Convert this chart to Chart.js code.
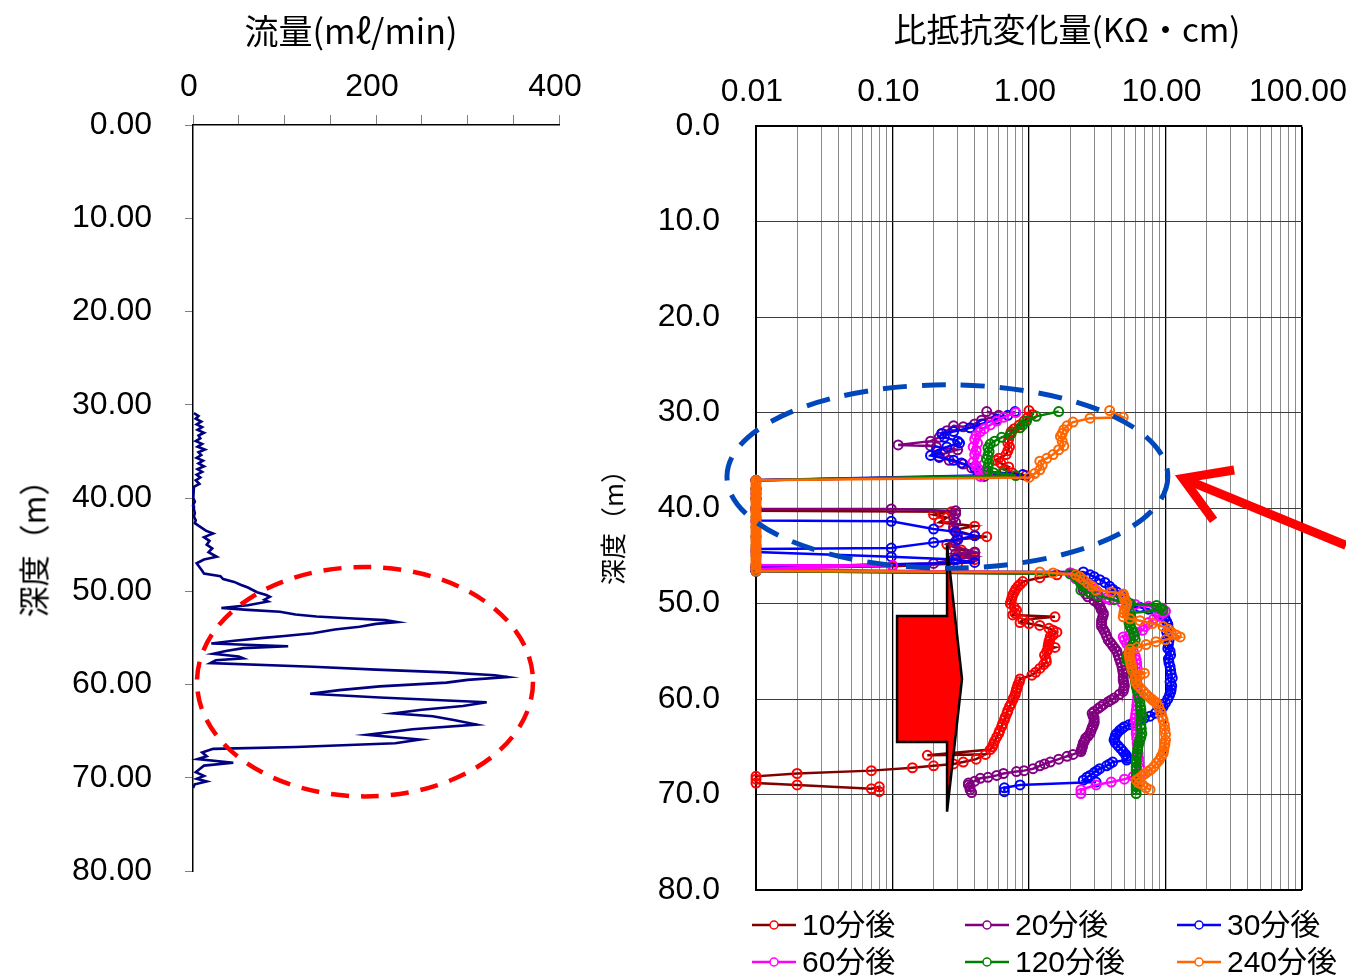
<!DOCTYPE html>
<html><head><meta charset="utf-8">
<script src="https://cdn.jsdelivr.net/npm/chart.js@4.4.1/dist/chart.umd.min.js"></script>
<style>
html,body{margin:0;padding:0;background:#fff;}
#wrap{position:relative;width:1346px;height:976px;overflow:hidden;background:#fff;}
canvas{position:absolute;top:0;}
.t{position:absolute;white-space:nowrap;font-family:'Noto Sans CJK JP',sans-serif;color:#000;line-height:1;}
.lg{position:absolute;white-space:nowrap;font-family:'Liberation Sans','Noto Sans CJK JP',sans-serif;font-size:30px;color:#000;line-height:1;display:flex;align-items:center;}
.lg svg{margin-right:6px;}
</style></head>
<body><div id="wrap">
<canvas id="c1" width="600" height="976" style="left:0px"></canvas>
<canvas id="c2" width="756" height="976" style="left:590px"></canvas>
<div class="t" style="left:351px;top:30px;font-size:34px;transform:translate(-50%,-50%)">流量(mℓ/min)</div>
<div class="t" style="left:1067px;top:28px;font-size:33px;transform:translate(-50%,-50%)">比抵抗変化量(KΩ・cm)</div>
<div class="t" style="left:32px;top:541px;font-size:31px;transform:translate(-50%,-50%) rotate(-90deg)">深度（m）</div>
<div class="t" style="left:612px;top:521px;font-size:26px;transform:translate(-50%,-50%) rotate(-90deg)">深度（m）</div>
<div id="legend"></div>
</div>
<script>
// ---------- data: left chart (flow vs depth) ----------
const flowDepth = [30.9,31.2,31.5,31.8,32.1,32.4,32.7,33.0,33.3,33.6,33.9,34.2,34.5,34.8,35.1,35.4,35.7,36.0,36.3,36.6,36.9,37.2,37.5,37.8,38.1,38.5,38.8,39.2,39.6,40.0,40.4,40.8,41.2,41.6,42.0,42.4,42.7,43.1,43.5,43.8,44.2,44.6,45.0,45.4,45.8,46.3,46.6,47.0,47.4,47.8,48.1,48.4,48.7,49.0,49.3,49.6,50.1,50.4,50.6,50.9,51.1,51.5,51.8,52.0,52.2,52.5,52.7,52.9,53.1,53.3,53.5,53.8,54.1,54.5,54.8,55.0,55.3,55.6,55.9,56.1,56.4,56.7,57.0,57.2,57.4,57.7,58.1,58.4,58.7,59.0,59.2,59.5,59.8,60.2,60.6,61.0,61.4,61.9,62.3,62.7,63.1,63.4,63.8,64.3,64.8,65.4,65.9,66.3,66.7,66.9,67.3,67.7,68.0,68.4,68.7,69.0,69.4,69.8,70.1,70.4,70.7,71.1];
const flowRate  = [1,6,3,9,4,10,5,12,6,8,3,10,5,13,6,9,4,11,6,12,5,10,4,8,3,7,1,0,1,0,2,0,1,2,1,3,2,8,14,22,12,18,15,21,17,26,12,4,7,10,12,30,33,45,52,60,70,80,84,78,82,60,31,60,95,112,135,170,210,223,200,182,155,131,100,77,45,20,104,55,36,22,50,55,25,19,131,200,277,330,344,300,277,204,160,128,204,321,295,250,219,262,285,310,240,190,248,221,113,22,10,15,5,44,12,8,3,12,4,15,2,0];

// ---------- data: right chart (resistivity change vs depth) ----------
const seriesNames = ['10分後','20分後','30分後','60分後','120分後','240分後'];
const lineColors   = ['#800000','#800080','#0000ff','#ff00ff','#008000','#ff6600'];
const markerColors = ['#ff0000','#800080','#0000ff','#ff00ff','#008000','#ff6600'];

const dep10 = [29.8,30.2,30.5,30.9,31.3,31.7,32.0,32.4,32.8,33.2,33.6,34.0,34.4,34.8,35.0,35.3,35.7,36.0,36.3,36.6,37.1,38.0,39.0,40.3,40.4,40.7,41.0,41.5,41.9,42.3,42.9,43.0,43.3,43.8,44.4,44.7,45.0,45.4,45.8,46.1,46.3,46.6,
  46.8,47.0,47.3,47.7,48.0,48.2,48.5,48.8,49.1,49.4,49.7,50.0,50.4,50.7,51.0,51.2,51.4,51.7,52.0,52.1,52.3,52.6,52.8,53.0,53.3,53.5,53.8,54.0,54.3,54.5,54.6,54.8,55.0,55.4,55.8,56.1,56.4,56.8,57.2,57.5,57.9,58.2,58.5,58.8,59.0,59.3,59.6,59.9,60.1,60.5,60.8,61.2,61.5,61.9,62.2,62.6,62.9,63.3,63.6,64.0,64.4,64.7,65.0,65.3,
  65.9,65.8,66.3,66.6,66.8,67.0,67.2,67.5,67.8,68.1,68.4,68.8,69.0,69.4,69.2,69.7];
const val10 = [1.0,1.06,0.98,0.92,0.85,0.78,0.74,0.72,0.71,0.70,0.72,0.70,0.68,0.60,0.57,0.62,0.71,0.66,0.75,0.95,0.01,0.01,0.01,0.01,0.27,0.20,0.25,0.22,0.40,0.28,0.40,0.49,0.30,0.25,0.32,0.40,0.30,0.40,0.30,0.10,0.01,0.01,
  2.0,1.6,1.2,0.90,0.86,0.83,0.80,0.78,0.76,0.75,0.74,0.73,0.78,0.81,0.79,0.76,1.55,0.90,0.86,1.0,1.2,1.4,1.5,1.6,1.5,1.43,1.42,1.4,1.39,1.38,1.55,1.38,1.35,1.3,1.33,1.34,1.28,1.2,1.12,1.05,0.86,0.85,0.83,0.82,0.81,0.80,0.79,0.77,0.76,0.74,0.72,0.70,0.69,0.67,0.66,0.64,0.63,0.61,0.60,0.58,0.56,0.55,0.54,0.52,
  0.18,0.48,0.41,0.33,0.28,0.20,0.14,0.07,0.02,0.01,0.01,0.01,0.02,0.07,0.08,0.08];

const dep20 = [29.9,30.3,30.8,31.2,31.5,31.4,31.9,32.2,32.6,33.0,33.4,33.5,33.6,33.9,34.3,34.6,35.0,35.4,35.8,36.2,36.7,37.1,38.0,39.0,40.1,40.1,40.3,40.6,41.0,41.5,42.0,42.5,43.0,43.5,44.0,44.6,44.8,45.1,45.4,45.8,46.2,46.6,
  46.9,47.2,47.4,47.7,48.0,48.3,48.6,49.0,49.3,49.7,50.0,50.2,50.5,50.7,51.0,51.2,51.5,51.8,52.1,52.4,52.7,53.0,53.4,53.8,54.1,54.4,54.7,55.0,55.4,55.8,56.2,56.6,57.0,57.3,57.7,58.0,58.3,58.6,58.9,59.2,59.5,59.9,60.1,60.3,60.6,60.8,61.0,61.3,61.5,61.8,62.0,62.3,62.5,62.8,63.0,63.3,63.6,63.9,64.1,64.4,64.6,64.9,65.1,65.3,65.5,65.8,66.0,66.3,66.6,66.8,67.0,67.3,67.5,67.6,67.8,68.0,68.2,68.3,68.6,68.8,69.0,69.2,69.5,69.8];
const val20 = [0.49,0.60,0.45,0.40,0.33,0.28,0.25,0.23,0.22,0.19,0.11,0.19,0.21,0.30,0.24,0.22,0.26,0.33,0.38,0.42,0.47,0.01,0.01,0.01,0.01,0.098,0.29,0.29,0.28,0.29,0.28,0.29,0.30,0.29,0.28,0.40,0.29,0.40,0.28,0.20,0.01,0.01,
  2.1,2.3,2.4,2.5,2.6,2.55,2.5,2.6,2.7,3.0,3.2,3.3,3.35,3.4,3.5,3.5,3.45,3.4,3.4,3.4,3.5,3.6,3.7,3.8,3.95,4.1,4.25,4.4,4.5,4.6,4.7,4.8,4.85,4.9,4.9,4.9,4.95,5.0,4.95,4.9,4.6,4.2,4.0,3.8,3.5,3.35,3.2,3.0,2.9,2.95,3.0,3.0,3.0,2.95,2.9,2.85,2.8,2.7,2.6,2.55,2.5,2.47,2.45,2.42,2.4,2.1,1.9,1.65,1.43,1.3,1.2,1.07,0.92,0.81,0.65,0.58,0.50,0.44,0.40,0.36,0.36,0.37,0.37,0.38];

const dep30 = [29.9,30.3,30.7,31.2,31.6,32.0,32.2,32.6,33.0,33.2,33.6,34.0,34.5,34.7,35.0,35.3,35.8,36.2,36.5,37.1,38.5,40.0,41.3,41.4,42.2,42.5,42.9,43.3,43.6,44.2,44.3,44.6,45.1,45.4,45.7,46.2,46.6,
  46.7,47.0,47.2,47.5,47.8,48.2,48.5,48.8,49.1,49.5,49.8,50.2,50.4,50.6,50.9,51.2,51.5,51.9,52.2,52.6,53.0,53.5,53.9,54.3,54.7,55.0,55.4,55.8,56.2,56.6,57.0,57.4,57.8,58.2,58.6,59.0,59.3,59.6,60.0,60.4,60.8,61.2,61.5,61.8,62.0,62.2,62.5,62.7,62.9,63.1,63.3,63.6,63.8,64.1,64.3,64.6,64.9,65.2,65.5,65.8,66.0,66.2,66.4,66.6,66.8,67.0,67.3,67.5,67.7,68.0,68.2,68.5,68.7,69.0,69.3,69.7];
const val30 = [0.79,0.70,0.58,0.45,0.37,0.28,0.23,0.24,0.30,0.31,0.25,0.21,0.19,0.22,0.28,0.32,0.40,0.49,0.90,0.01,0.01,0.01,0.01,0.098,0.20,0.29,0.40,0.30,0.20,0.098,0.01,0.01,0.098,0.29,0.40,0.01,0.01,
  2.5,2.8,3.0,3.3,3.6,3.9,4.1,4.4,4.7,5.0,5.2,5.5,6.5,7.5,8.6,9.6,9.9,10.2,10.4,10.5,10.2,10.3,10.6,10.5,10.4,10.8,10.9,10.5,10.6,10.8,10.9,11.0,11.2,10.8,11.1,11.0,10.9,10.7,10.4,10.0,9.6,9.1,8.4,7.7,7.0,6.5,5.8,5.4,5.0,4.8,4.6,4.4,4.3,4.25,4.2,4.3,4.5,4.7,4.9,5.1,5.2,5.25,5.2,4.1,3.9,3.7,3.3,3.15,3.0,2.8,2.65,2.5,3.1,0.86,0.66,0.66];

const dep60 = [30.0,30.5,30.9,31.3,31.7,32.0,32.4,32.8,33.2,33.6,34.0,34.4,34.8,35.2,35.6,36.0,36.3,36.7,37.1,38.5,40.0,41.5,43.0,44.5,46.0,46.0,46.4,
  46.8,47.4,47.9,48.2,48.5,48.8,49.1,49.4,49.6,49.9,50.1,50.3,50.5,50.8,51.0,51.3,51.6,52.0,52.4,52.8,53.0,53.2,53.5,53.8,54.2,54.6,55.0,55.5,55.9,56.3,56.8,57.2,57.7,58.1,58.6,59.0,59.4,59.8,60.3,60.7,61.2,61.6,62.0,62.4,62.8,63.2,63.6,64.1,64.6,65.1,65.7,66.2,66.7,67.2,67.8,68.1,68.4,68.7,69.0,69.5,69.9];
const val60 = [0.80,0.65,0.58,0.52,0.47,0.44,0.41,0.40,0.42,0.39,0.41,0.40,0.42,0.39,0.41,0.43,0.50,0.44,0.01,0.01,0.01,0.01,0.01,0.01,0.01,0.10,0.01,
  2.0,2.2,2.4,2.7,3.0,3.2,3.5,3.7,3.9,4.8,6.0,7.5,9.5,10.0,9.6,9.0,8.2,7.5,7.1,6.8,6.1,5.5,4.9,5.0,5.2,5.5,5.8,6.0,6.1,6.15,6.2,6.15,6.1,6.15,6.2,6.25,6.3,6.25,6.2,6.15,6.1,6.05,6.0,6.05,6.1,6.1,6.1,6.15,6.2,6.25,6.3,6.35,6.4,6.45,6.5,5.8,5.0,4.0,3.1,2.4,2.4];

const dep120 = [29.9,30.4,30.9,31.3,31.6,32.2,32.6,33.0,33.3,33.7,34.1,34.5,34.9,35.3,35.7,36.1,36.3,36.4,36.6,37.1,38.0,39.0,40.0,41.0,42.0,43.0,44.0,45.0,46.0,46.6,
  46.9,47.2,47.5,47.9,48.2,48.6,48.9,49.2,49.6,50.0,50.2,50.5,50.7,51.0,51.3,51.5,51.8,52.0,52.4,52.7,53.0,53.4,53.8,54.2,54.6,55.0,55.3,55.6,55.9,56.2,56.6,56.9,57.3,57.6,58.0,58.3,58.7,59.1,59.5,59.9,60.4,60.8,61.1,61.5,61.8,62.2,62.7,63.1,63.6,64.0,64.3,64.6,64.9,65.3,65.7,66.0,66.4,66.7,67.1,67.4,67.8,68.2,68.5,68.9,69.2,69.5,69.9];
const val120 = [1.65,1.13,0.96,0.90,0.86,0.74,0.63,0.56,0.52,0.50,0.51,0.50,0.49,0.51,0.50,0.50,0.55,0.64,0.80,0.01,0.01,0.01,0.01,0.01,0.01,0.01,0.01,0.01,0.01,0.01,
  2.0,2.2,2.3,2.4,2.5,2.4,2.8,3.2,4.2,5.5,8.6,9.2,9.6,5.5,5.55,5.6,5.5,5.4,5.5,5.65,5.8,5.9,6.0,5.8,5.6,5.45,5.3,5.25,5.2,5.4,5.6,5.7,5.8,5.9,6.0,6.05,6.1,6.2,6.3,6.4,6.5,6.55,6.6,6.65,6.7,6.65,6.6,6.65,6.7,6.6,6.5,6.4,6.3,6.25,6.2,6.15,6.1,6.1,6.1,6.1,6.1,6.1,6.1,6.1,6.1,6.1,6.1];

const dep240 = [29.8,30.5,30.6,31.0,31.4,31.8,32.2,32.5,33.0,33.5,33.9,34.4,34.8,35.1,35.5,36.0,36.4,36.8,37.1,37.3,37.5,37.8,38.0,38.3,38.5,38.8,39.0,39.3,39.5,39.8,40.0,40.3,40.5,40.8,41.0,41.3,41.5,41.8,42.0,42.3,42.5,42.8,43.0,43.3,43.5,43.8,44.0,44.3,44.5,44.8,45.0,45.3,45.5,45.8,46.0,46.3,46.6,
  46.7,46.8,47.0,47.2,47.5,47.9,48.2,48.6,48.8,49.0,49.2,49.5,49.8,50.0,50.4,50.7,51.0,51.4,51.6,51.8,52.1,52.4,52.7,53.0,53.3,53.5,53.8,54.0,54.3,54.6,54.8,55.1,55.3,55.6,55.9,56.2,56.4,56.7,57.0,57.3,57.5,57.7,58.0,58.3,58.6,58.9,59.2,59.5,59.8,60.0,60.2,60.4,60.8,61.3,61.8,62.2,62.7,63.2,63.7,64.3,64.7,65.0,65.4,65.7,66.0,66.4,66.7,67.1,67.4,67.6,67.8,68.0,68.3,68.5,68.8,69.0,69.3,69.5];
const val240 = [3.9,4.9,2.8,2.1,1.9,1.8,1.75,1.7,1.75,1.8,1.65,1.5,1.35,1.2,1.25,1.2,1.1,1.0,0.01,0.01,0.01,0.01,0.01,0.01,0.01,0.01,0.01,0.01,0.01,0.01,0.01,0.01,0.01,0.01,0.01,0.01,0.01,0.01,0.01,0.01,0.01,0.01,0.01,0.01,0.01,0.01,0.01,0.01,0.01,0.01,0.01,0.01,0.01,0.01,0.01,0.01,0.01,
  1.2,1.5,2.2,2.35,2.5,2.7,2.9,3.1,4.0,4.9,4.95,5.0,5.1,5.2,5.1,5.0,4.95,4.9,5.5,6.5,8.0,9.6,10.5,11.0,12.0,12.8,10.0,8.5,7.2,6.2,5.5,5.45,5.4,5.45,5.5,5.55,5.6,5.65,5.7,7.0,6.5,6.0,6.05,6.1,6.3,6.6,6.9,7.2,7.6,7.9,8.2,8.6,8.9,9.2,9.4,9.6,9.8,9.9,10.0,10.0,9.9,9.8,9.7,9.6,9.3,9.0,8.6,8.2,7.8,7.4,7.1,6.8,6.4,6.1,6.4,6.8,7.2,7.7];

const seriesDepths = [dep10,dep20,dep30,dep60,dep120,dep240];
const seriesValues = [val10,val20,val30,val60,val120,val240];

// tick labels
const flowTickLabels = [0,200,400];
const depthTicks = [0,10,20,30,40,50,60,70,80];
const logDecades = [0.01,0.1,1,10,100];

// ---------- common ----------
const NUMFONT = "'Liberation Sans','Noto Sans',sans-serif";
const NUMSIZE = 32;
Chart.defaults.font.family = NUMFONT;
Chart.defaults.color = '#000';

function ellipsePlugin(id, cfg) {
  return { id, afterDatasetsDraw(chart) {
    const {ctx, scales:{x,y}} = chart;
    ctx.save();
    for (const e of cfg) {
      const x1 = x.getPixelForValue(e.x0), x2 = x.getPixelForValue(e.x1);
      const y1 = y.getPixelForValue(e.y0), y2 = y.getPixelForValue(e.y1);
      ctx.beginPath();
      ctx.ellipse((x1+x2)/2,(y1+y2)/2,Math.abs(x2-x1)/2,Math.abs(y2-y1)/2,0,0,Math.PI*2);
      ctx.strokeStyle = e.color; ctx.lineWidth = e.width; ctx.setLineDash(e.dash);
      ctx.stroke();
    }
    ctx.restore();
  }};
}
const noPadX = s => { s.paddingLeft = 0; s.paddingRight = 0; };
const noPadY = s => { s.paddingTop = 0; s.paddingBottom = 0; };

// ---------- left chart ----------
new Chart(document.getElementById('c1'), {
  type: 'scatter',
  data: { datasets: [{
    data: flowDepth.map((d,i)=>({x: flowRate[i], y: d})),
    showLine: true, borderColor: '#000080', borderWidth: 2.6, pointRadius: 0, tension: 0, clip: false
  }]},
  options: {
    responsive: false, animation: false, devicePixelRatio: 1,
    layout: { padding: { left: 0, top: 0, right: 41, bottom: 105 } },
    plugins: { legend: { display: false }, tooltip: { enabled: false } },
    scales: {
      x: { type: 'linear', position: 'top', min: 0, max: 400,
        ticks: { stepSize: 50, autoSkip: false, maxRotation: 0, padding: 9, labelOffset: -4,
          font: { size: NUMSIZE }, color: '#000',
          callback: v => flowTickLabels.includes(v) ? String(v) : '' },
        grid: { drawOnChartArea: false, drawTicks: true, tickLength: 10, tickColor: '#808080' },
        border: { color: '#000', width: 1.5 },
        afterFit: s => { s.height = 125; noPadX(s); } },
      y: { type: 'linear', reverse: true, min: 0, max: 80,
        afterBuildTicks: s => { s.ticks = depthTicks.map(v=>({value:v})); },
        ticks: { padding: 33, font: { size: NUMSIZE }, color: '#000', callback: v => Number(v).toFixed(2) },
        grid: { drawOnChartArea: false, drawTicks: true, tickLength: 8, tickColor: '#808080' },
        border: { color: '#000', width: 1.5 },
        afterFit: s => { s.width = 193; noPadY(s); } }
    }
  },
  plugins: [ellipsePlugin('redEllipse', [{x0: 4.4, x1: 371.6, y0: 47.4, y1: 72.0, color: '#ff0000', width: 4.5, dash: [18, 12]}])]
});

// ---------- right chart ----------
const isDecade = v => Math.abs(Math.log10(v) - Math.round(Math.log10(v))) < 1e-6;
const logTicks = [];
for (let i = 0; i < logDecades.length; i++) {
  const base = logDecades[i];
  if (i === logDecades.length - 1) { logTicks.push(base); break; }
  for (let k = 1; k <= 9; k++) logTicks.push(+(base * k).toPrecision(6));
}

const annot = {
  id: 'annot',
  afterDatasetsDraw(chart) {
    const {ctx, scales:{x,y}} = chart;
    const P = (vx, vy) => [x.getPixelForValue(vx), y.getPixelForValue(vy)];
    ctx.save();
    // block arrow
    const poly = [P(0.108,51.3),P(0.251,51.3),P(0.251,43.9),P(0.323,57.9),P(0.251,71.8),P(0.251,64.5),P(0.108,64.5)];
    ctx.beginPath(); poly.forEach((p,i)=> i?ctx.lineTo(p[0],p[1]):ctx.moveTo(p[0],p[1])); ctx.closePath();
    ctx.fillStyle = '#ff0000'; ctx.fill();
    ctx.lineWidth = 2.5; ctx.strokeStyle = '#000'; ctx.lineJoin = 'miter'; ctx.stroke();
    // blue dashed ellipse
    const [ex1, ey1] = P(0.00613, 27.1), [ex2, ey2] = P(10.4, 46.3);
    ctx.beginPath();
    ctx.ellipse((ex1+ex2)/2,(ey1+ey2)/2,(ex2-ex1)/2,(ey2-ey1)/2,0,0,Math.PI*2);
    ctx.strokeStyle = '#0047bb'; ctx.lineWidth = 5; ctx.setLineDash([24, 15]); ctx.stroke();
    ctx.setLineDash([]);
    // red arrow
    const [tx, ty] = P(13.4, 36.9), [sx, sy] = P(210, 43.9);
    const ang = Math.atan2(sy - ty, sx - tx);
    ctx.strokeStyle = '#ff0000'; ctx.lineWidth = 9; ctx.lineCap = 'butt'; ctx.lineJoin = 'miter';
    ctx.beginPath(); ctx.moveTo(sx, sy); ctx.lineTo(tx + 6*Math.cos(ang), ty + 6*Math.sin(ang)); ctx.stroke();
    const hl = 52, ha = 0.55;
    ctx.beginPath();
    ctx.moveTo(tx + hl*Math.cos(ang - ha), ty + hl*Math.sin(ang - ha));
    ctx.lineTo(tx, ty);
    ctx.lineTo(tx + hl*Math.cos(ang + ha), ty + hl*Math.sin(ang + ha));
    ctx.stroke();
    ctx.restore();
  }
};

new Chart(document.getElementById('c2'), {
  type: 'scatter',
  data: { datasets: seriesNames.map((name, s) => ({
    label: name,
    data: seriesDepths[s].map((d,i)=>({x: seriesValues[s][i], y: d})),
    showLine: true, borderColor: lineColors[s], borderWidth: 2.5, tension: 0,
    pointRadius: 4.5, pointBorderWidth: 2, pointBorderColor: markerColors[s],
    pointBackgroundColor: 'rgba(255,255,255,0)', pointStyle: 'circle',
    order: seriesNames.length - s, clip: 8
  }))},
  options: {
    responsive: false, animation: false, devicePixelRatio: 1,
    layout: { padding: { left: 0, top: 0, right: 44, bottom: 86 } },
    plugins: { legend: { display: false }, tooltip: { enabled: false } },
    scales: {
      x: { type: 'logarithmic', position: 'top', min: 0.01, max: 100,
        afterBuildTicks: s => { s.ticks = logTicks.map(v=>({value:v, major:isDecade(v)})); },
        ticks: { autoSkip: false, maxRotation: 0, padding: 15, labelOffset: -4, font: { size: NUMSIZE }, color: '#000',
          callback: v => isDecade(v) ? Number(v).toFixed(2) : '' },
        grid: { drawTicks: false,
          color: c => (c.tick && isDecade(c.tick.value)) ? '#000' : '#8a8a8a',
          lineWidth: c => (c.tick && (c.tick.value === 100)) ? 2 : (c.tick && isDecade(c.tick.value) ? 1.3 : 1) },
        border: { color: '#000', width: 2 },
        afterFit: s => { s.height = 126; noPadX(s); } },
      y: { type: 'linear', reverse: true, min: 0, max: 80,
        afterBuildTicks: s => { s.ticks = depthTicks.map(v=>({value:v})); },
        ticks: { padding: 36, font: { size: NUMSIZE }, color: '#000', callback: v => Number(v).toFixed(1) },
        grid: { drawTicks: false, color: c => (c.tick && c.tick.value === 80) ? '#000' : '#3c3c3c',
          lineWidth: c => (c.tick && c.tick.value === 80) ? 2 : 1 },
        border: { color: '#000', width: 2 },
        afterFit: s => { s.width = 166; noPadY(s); } }
    }
  },
  plugins: [annot]
});

// ---------- HTML legend ----------
const legendPos = [[752,925],[965,925],[1177,925],[752,962],[965,962],[1177,962]];
const lg = document.getElementById('legend');
seriesNames.forEach((name, s) => {
  const d = document.createElement('div');
  d.className = 'lg';
  d.style.left = legendPos[s][0] + 'px';
  d.style.top = (legendPos[s][1] - 17) + 'px';
  d.style.height = '34px';
  d.innerHTML = `<svg width="44" height="12"><line x1="0" y1="6" x2="44" y2="6" stroke="${lineColors[s]}" stroke-width="2.5"/><circle cx="22" cy="6" r="4" fill="#fff" stroke="${markerColors[s]}" stroke-width="1.5"/></svg><span>${name}</span>`;
  lg.appendChild(d);
});
</script>
</body></html>
